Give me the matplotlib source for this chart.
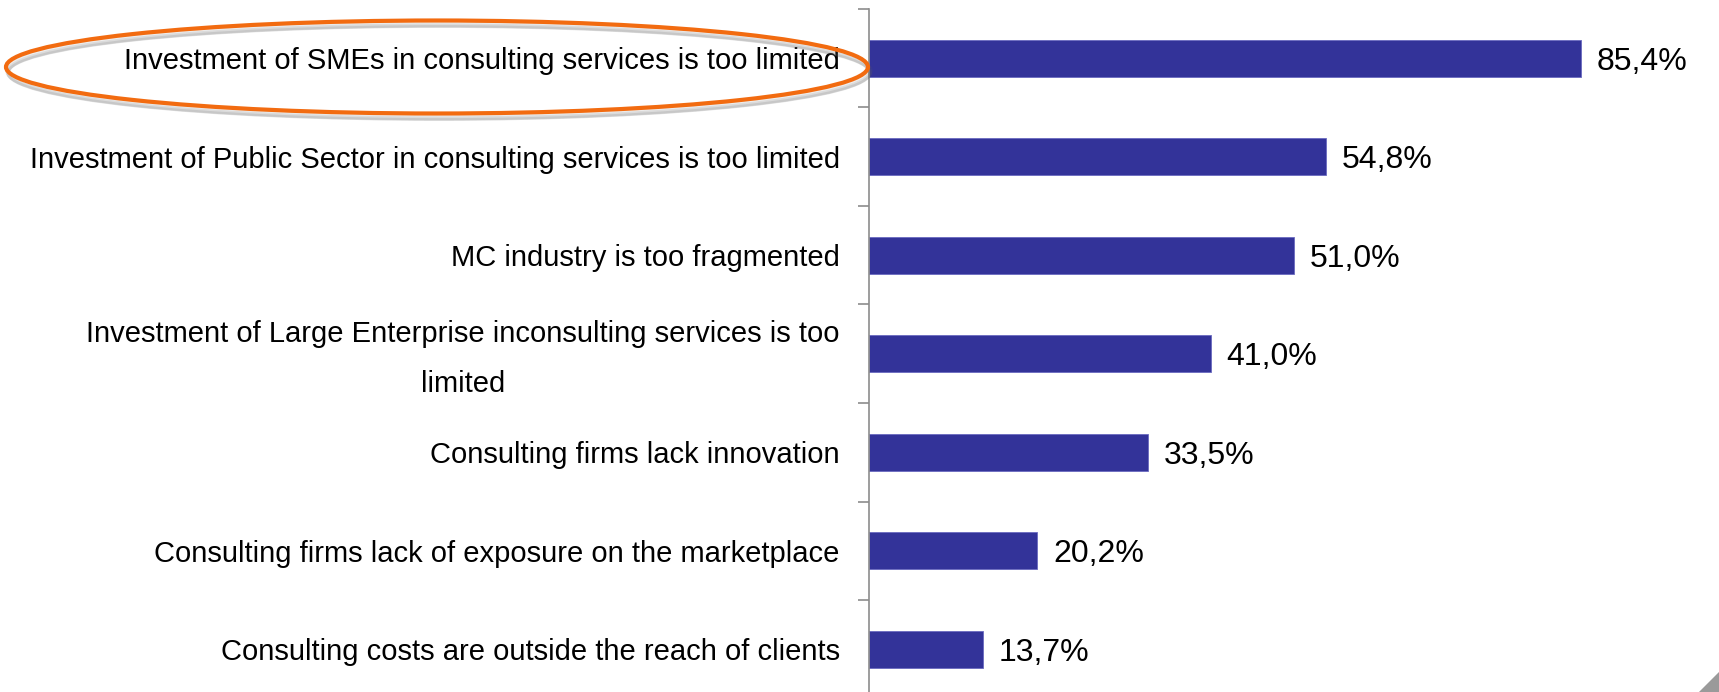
import matplotlib
matplotlib.use("Agg")
import matplotlib.pyplot as plt
from matplotlib.patches import Ellipse, Polygon
from matplotlib.ticker import FixedLocator
from matplotlib.transforms import ScaledTranslation

plt.rcParams['font.family'] = ['Liberation Sans', 'DejaVu Sans']

# survey answers, top to bottom
reasons = [
    "Investment of SMEs in consulting services is too limited",
    "Investment of Public Sector in consulting services is too limited",
    "MC industry is too fragmented",
    "Investment of Large Enterprise inconsulting services is too\nlimited",
    "Consulting firms lack innovation",
    "Consulting firms lack of exposure on the marketplace",
    "Consulting costs are outside the reach of clients",
]
shares = [85.4, 54.8, 51.0, 41.0, 33.5, 20.2, 13.7]
share_labels = ["85,4%", "54,8%", "51,0%", "41,0%", "33,5%", "20,2%", "13,7%"]

fig = plt.figure(figsize=(17.19, 6.92), dpi=100)
ax = fig.add_axes([0.5055, -0.0094, 0.4945, 0.9964])

ypos = list(range(len(reasons)))
ax.barh(ypos, shares, height=0.38, color='#333399', edgecolor='#6a6ac0', linewidth=0.6)

for y, v, lab in zip(ypos, shares, share_labels):
    ax.text(v + 1.9, y, lab, va='center_baseline', ha='left', fontsize=23)

ax.set_ylim(len(reasons) - 0.5, -0.5)
ax.set_xlim(0, 102)
ax.set_yticks(ypos)
ax.set_yticklabels(reasons, fontsize=21, multialignment='center', linespacing=2.0)
ax.tick_params(axis='y', which='major', length=0, pad=21)
ax.yaxis.set_minor_locator(FixedLocator([i - 0.5 for i in range(len(reasons) + 1)]))
ax.tick_params(axis='y', which='minor', length=8, width=1.2, color='#8c8c8c')
ax.set_xticks([])

# the two-line label sits a little above its bar
two_line = ax.get_yticklabels()[3]
two_line.set_transform(two_line.get_transform() + ScaledTranslation(0, 0.09, fig.dpi_scale_trans))

for side in ['top', 'right', 'bottom']:
    ax.spines[side].set_visible(False)
ax.spines['left'].set_color('#8c8c8c')
ax.spines['left'].set_linewidth(1.2)

# highlight ring around the first answer, with a soft shadow
W, H = 1719.0, 692.0
cx, cy, ew, eh = 437 / W, 1 - 67 / H, 862 / W, 93 / H
for k, a in enumerate([0.10, 0.13, 0.16]):
    fig.patches.append(Ellipse((cx + 2 / W, cy - (4 + k) / H), ew, eh,
                               transform=fig.transFigure, fill=False,
                               edgecolor='#606060', alpha=a, linewidth=4 - k))
fig.patches.append(Ellipse((cx, cy), ew, eh, transform=fig.transFigure,
                           fill=False, edgecolor='#f26b10', linewidth=3))

# page corner mark
fig.patches.append(Polygon([(1 - 20 / W, 0), (1, 0), (1, 20 / H)],
                           closed=True, transform=fig.transFigure,
                           facecolor='#9a9a9a', edgecolor='none'))

fig.savefig('out.png', dpi=100)
